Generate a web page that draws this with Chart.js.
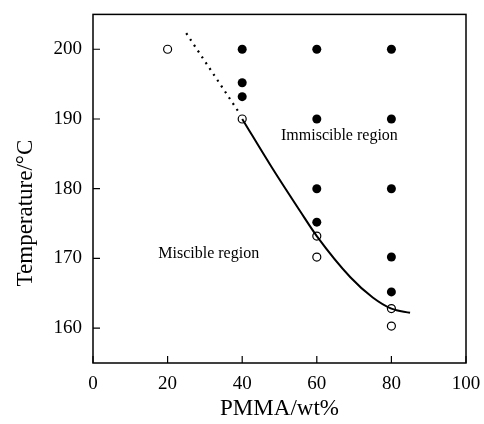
<!DOCTYPE html>
<html>
<head>
<meta charset="utf-8">
<script src="https://cdn.jsdelivr.net/npm/chart.js@4.4.1/dist/chart.umd.min.js"></script>
<style>
  html, body { margin: 0; padding: 0; background: #fff; }
  #wrap { width: 484px; height: 424px; }
</style>
</head>
<body>
<div id="wrap"><canvas id="phaseChart" width="484" height="424"></canvas></div>
<script>
// tick labels
const xTicks = [0, 20, 40, 60, 80, 100];
const yTicks = [160, 170, 180, 190, 200];

// open circles (miscible)
const openX = [20, 40, 60, 60, 80, 80];
const openY = [200, 190, 173.2, 170.2, 162.8, 160.3];

// filled circles (immiscible)
const filledX = [40, 40, 40, 60, 60, 60, 60, 80, 80, 80, 80, 80];
const filledY = [200, 195.2, 193.2, 200, 190, 180, 175.2, 200, 190, 180, 170.2, 165.2];

// solid boundary curve
const curveX = [40, 48, 55.5, 60, 69, 75, 80, 85];
const curveY = [190, 183, 176.8, 173.2, 167.3, 164.4, 162.8, 162.2];

// dotted extension
const dotX = [25, 39.3];
const dotY = [202.3, 190.8];

const regionLabels = ['Immiscible region', 'Miscible region'];

const SERIF = '"Liberation Serif", "DejaVu Serif", serif';

function toPoints(xs, ys) {
    return xs.map((x, i) => ({ x: x, y: ys[i] }));
}

// frame, inward ticks, axis titles and region text
const decorPlugin = {
    id: 'decor',
    afterDraw(chart) {
        const ctx = chart.ctx;
        const a = chart.chartArea;
        const xs = chart.scales.x;
        const ys = chart.scales.y;
        ctx.save();
        ctx.strokeStyle = '#000';
        ctx.lineWidth = 1.5;
        ctx.strokeRect(a.left, a.top, a.right - a.left, a.bottom - a.top);

        ctx.lineWidth = 1.2;
        ctx.beginPath();
        xTicks.forEach(v => {
            const px = xs.getPixelForValue(v);
            ctx.moveTo(px, a.bottom);
            ctx.lineTo(px, a.bottom - 7);
        });
        yTicks.forEach(v => {
            const py = ys.getPixelForValue(v);
            ctx.moveTo(a.left, py);
            ctx.lineTo(a.left + 7, py);
        });
        ctx.stroke();

        ctx.fillStyle = '#000';
        ctx.font = '16px ' + SERIF;
        ctx.textBaseline = 'middle';
        ctx.textAlign = 'left';
        ctx.fillText(regionLabels[0], xs.getPixelForValue(50.4), ys.getPixelForValue(187.6));
        ctx.fillText(regionLabels[1], xs.getPixelForValue(17.5), ys.getPixelForValue(170.6));

        ctx.font = '23px ' + SERIF;
        ctx.textAlign = 'center';
        ctx.fillText('PMMA/wt%', (a.left + a.right) / 2, 409);

        ctx.translate(26, 213);
        ctx.rotate(-Math.PI / 2);
        ctx.fillText('Temperature/\u00b0C', 0, 0);
        ctx.restore();
    }
};

const ctx = document.getElementById('phaseChart').getContext('2d');

new Chart(ctx, {
    type: 'scatter',
    data: {
        datasets: [
            {
                label: 'boundary',
                data: toPoints(curveX, curveY),
                showLine: true,
                borderColor: '#000',
                borderWidth: 2,
                pointRadius: 0,
                cubicInterpolationMode: 'monotone'
            },
            {
                label: 'extension',
                data: toPoints(dotX, dotY),
                showLine: true,
                borderColor: '#000',
                borderWidth: 2.2,
                borderDash: [2, 5],
                pointRadius: 0
            },
            {
                label: 'immiscible',
                data: toPoints(filledX, filledY),
                pointRadius: 4.5,
                pointBackgroundColor: '#000',
                pointBorderColor: '#000',
                pointBorderWidth: 0
            },
            {
                label: 'miscible',
                data: toPoints(openX, openY),
                pointRadius: 4,
                pointBackgroundColor: '#fff',
                pointBorderColor: '#000',
                pointBorderWidth: 1.2
            }
        ]
    },
    options: {
        responsive: false,
        animation: false,
        layout: { padding: { top: 3, right: 18, left: 0, bottom: 0 } },
        plugins: {
            legend: { display: false },
            tooltip: { enabled: false }
        },
        scales: {
            x: {
                type: 'linear',
                min: 0,
                max: 100,
                grid: { display: false },
                border: { display: false },
                afterBuildTicks: scale => { scale.ticks = xTicks.map(v => ({ value: v })); },
                afterFit: scale => { scale.height = 61; },
                ticks: {
                    color: '#000',
                    padding: 2,
                    maxRotation: 0,
                    font: { family: SERIF, size: 19 }
                }
            },
            y: {
                type: 'linear',
                min: 155,
                max: 205,
                grid: { display: false },
                border: { display: false },
                afterBuildTicks: scale => { scale.ticks = yTicks.map(v => ({ value: v })); },
                afterFit: scale => { scale.width = 93; },
                ticks: {
                    color: '#000',
                    padding: 3,
                    font: { family: SERIF, size: 19 }
                }
            }
        }
    },
    plugins: [decorPlugin]
});
</script>
</body>
</html>
